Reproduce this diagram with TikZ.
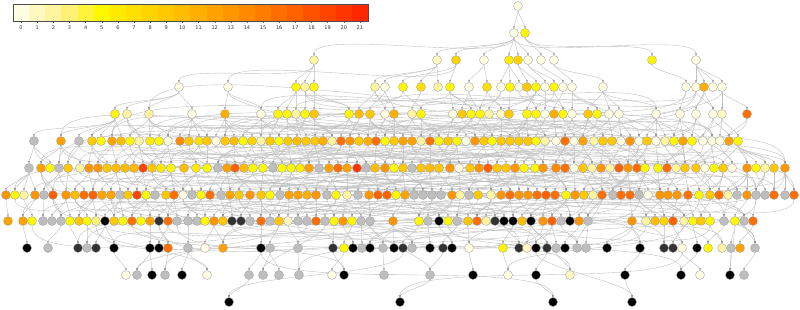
\documentclass[tikz,border=0pt]{standalone}
\usepackage{fontspec}
\setsansfont{DejaVu Sans}
\usepackage{tikz}
\usetikzlibrary{arrows.meta}
\definecolor{heat0}{RGB}{255,253,226}
\definecolor{heat1}{RGB}{255,248,192}
\definecolor{heat2}{RGB}{255,244,160}
\definecolor{heat3}{RGB}{255,240,118}
\definecolor{heat4}{RGB}{255,243,60}
\definecolor{heat5}{RGB}{255,248,0}
\definecolor{heat6}{RGB}{255,235,0}
\definecolor{heat7}{RGB}{255,224,0}
\definecolor{heat8}{RGB}{255,212,0}
\definecolor{heat9}{RGB}{255,200,0}
\definecolor{heat10}{RGB}{255,188,0}
\definecolor{heat11}{RGB}{255,175,0}
\definecolor{heat12}{RGB}{255,162,0}
\definecolor{heat13}{RGB}{255,150,0}
\definecolor{heat14}{RGB}{255,137,0}
\definecolor{heat15}{RGB}{255,124,0}
\definecolor{heat16}{RGB}{255,110,0}
\definecolor{heat17}{RGB}{255,96,0}
\definecolor{heat18}{RGB}{255,82,0}
\definecolor{heat19}{RGB}{255,68,0}
\definecolor{heat20}{RGB}{255,54,0}
\definecolor{heat21}{RGB}{255,38,0}
\definecolor{heatga}{RGB}{190,190,190}
\definecolor{heatdk}{RGB}{50,50,50}
\definecolor{heatbk}{RGB}{0,0,0}
\definecolor{edgegray}{RGB}{192,192,192}
\definecolor{nodeline}{RGB}{160,160,160}
\tikzstyle{vtx} = [circle, minimum size=9pt, inner sep=0pt, draw=nodeline, line width=0.35pt]
\tikzstyle{link} = [draw=edgegray, line width=0.4pt, -{Stealth[length=2.4pt,width=2pt,color=black!45]}, out=-90, in=90, looseness=0.35]
\tikzstyle{ticklabel} = [font=\sffamily\fontsize{5}{6}\selectfont, text=black!80, inner sep=0pt]
\pgfdeclarelayer{edges}
\pgfsetlayers{edges,main}

% x of node #2 in row #1
\newcommand\rowx[2]{\csname rx#1-#2\endcsname}
% one row of nodes: #1 row, #2 y, #3 list x/colour
\newcommand\vrow[3]{%
  \foreach \x/\c [count=\i] in {#3} {%
    \node[vtx, fill=heat\c] (r#1-\i) at (\x,#2) {};
    \expandafter\xdef\csname rx#1-\i\endcsname{\x}%
    \expandafter\xdef\csname rn#1\endcsname{\i}%
  }}
% node of row #1 nearest to x = #2 -> \pidx
\newcommand\findparent[2]{%
  \gdef\pbest{100000}\gdef\pidx{1}%
  \edef\nup{\csname rn#1\endcsname}%
  \foreach \j in {1,...,\nup} {%
    \count255=\numexpr\rowx{#1}{\j}-(#2)\relax
    \ifnum\count255<0 \count255=-\count255 \fi
    \ifnum\count255<\pbest\relax
      \xdef\pbest{\the\count255}\xdef\pidx{\j}%
    \fi
  }}
\newcommand\linkrows[2]{%
  \edef\nlow{\csname rn#2\endcsname}%
  \foreach \i in {1,...,\nlow} {%
    \pgfmathtruncatemacro\shift{12*(mod(\i,3)-1)}%
    \findparent{#1}{\rowx{#2}{\i}+\shift}%
    \draw[link] (r#1-\pidx) to (r#2-\i);
  }}
\newcommand\farlinks[4]{%
  \edef\nlow{\csname rn#2\endcsname}%
  \edef\nupp{\csname rn#1\endcsname}%
  \foreach \i in {1,...,\nlow} {%
    \pgfmathtruncatemacro\rest{mod(\i,#3)}%
    \ifnum\rest=0
      \pgfmathtruncatemacro\far{mod(\i*#4+3,\nupp)+1}%
      \draw[link] (r#1-\far) to (r#2-\i);
    \fi
  }}

\begin{document}
\begin{tikzpicture}[x=1pt, y=-1pt]
    \useasboundingbox (0,0) rectangle (800,309);

    % Colour scale
    \foreach \i in {0,...,21} {
        \fill[heat\i] ({13+16.136*\i},4) rectangle ({13+16.136*(\i+1)},21);
        \draw[black!60, line width=0.4pt] ({13+16.136*(\i+0.5)},21) -- ++(0,2);
        \node[ticklabel] (lab\i) at ({13+16.136*(\i+0.5)},28) {\i};
    }
    \draw[black!70, line width=0.5pt] (13,4) rectangle (368,21);

    % Rows of nodes
    \vrow{0}{6}{518/0}
    \vrow{1}{33}{514/0, 525/5}
    \vrow{2}{60}{314/2, 437/1, 456/8, 484/0, 509/6, 518/8, 528/0, 541/0, 554/0, 652/5, 696/0}
    \vrow{3}{87}{179/0, 228/0, 296/5, 305/2, 314/5, 375/2, 385/0, 403/5, 421/7, 438/2, 450/5, 469/0, 487/7, 501/0, 510/5, 519/0, 527/9, 536/5, 545/0, 554/5, 563/0, 572/0, 603/0, 686/0, 696/0, 704/11, 713/0, 722/0}
    \vrow{4}{114}{115/5, 127/2, 149/2, 192/0, 225/11, 261/0, 278/5, 287/5, 296/2, 305/5, 314/9, 349/5, 359/10, 370/9, 385/0, 394/11, 412/2, 421/5, 453/0, 462/9, 471/5, 480/5, 489/2, 501/1, 509/9, 527/5, 536/5, 545/0, 554/11, 563/5, 572/0, 588/9, 597/5, 609/0, 619/0, 656/0, 680/0, 696/0, 713/0, 722/1, 747/16}
    \vrow{5}{141}{34/ga, 61/12, 79/ga, 92/9, 101/5, 112/12, 121/10, 130/5, 139/2, 150/6, 159/5, 168/0, 180/14, 189/9, 199/7, 207/9, 216/0, 225/9, 234/10, 243/5, 252/8, 261/2, 270/9, 279/5, 288/9, 297/10, 306/9, 315/9, 323/11, 332/2, 341/16, 350/13, 359/9, 368/11, 376/16, 385/5, 394/9, 403/12, 412/12, 421/2, 430/16, 439/5, 448/9, 457/5, 466/0, 475/13, 484/9, 492/5, 501/9, 510/9, 519/9, 528/9, 536/5, 545/2, 556/0, 565/16, 574/0, 583/12, 594/2, 603/9, 612/9, 621/0, 630/13, 639/0, 647/9, 656/0, 665/2, 674/5, 683/12, 692/5, 703/0, 712/0, 720/0, 729/12, 738/5}
    \vrow{6}{168}{29/ga, 41/12, 50/5, 59/ga, 68/9, 80/2, 89/13, 98/13, 107/9, 116/10, 125/10, 134/10, 143/19, 152/9, 161/6, 171/5, 184/10, 196/6, 207/5, 218/ga, 227/12, 235/17, 244/10, 253/5, 263/5, 273/ga, 282/5, 291/5, 300/6, 309/12, 319/ga, 329/12, 338/16, 347/12, 357/20, 366/ga, 375/10, 385/13, 394/5, 403/9, 412/ga, 421/9, 430/10, 439/9, 450/13, 459/0, 470/9, 479/13, 488/17, 497/9, 506/9, 515/13, 524/5, 535/5, 543/13, 556/14, 565/16, 574/0, 583/9, 592/2, 601/13, 610/2, 619/17, 628/13, 637/16, 645/5, 658/5, 667/16, 676/2, 685/9, 696/9, 705/0, 714/5, 723/9, 732/0, 747/13, 756/5, 765/2, 774/9, 785/13}
    \vrow{7}{195}{6/13, 15/5, 24/2, 35/13, 44/ga, 53/17, 66/13, 75/10, 84/16, 93/17, 102/12, 111/12, 120/ga, 128/9, 137/19, 146/5, 155/ga, 166/9, 174/16, 183/0, 192/ga, 201/5, 210/16, 221/ga, 230/12, 239/9, 250/13, 261/9, 270/5, 280/ga, 289/12, 298/12, 307/11, 316/13, 327/ga, 336/5, 347/2, 358/ga, 369/13, 378/17, 387/17, 396/5, 405/12, 414/ga, 423/ga, 432/ga, 441/ga, 452/13, 460/2, 469/ga, 478/9, 491/2, 501/13, 510/16, 519/13, 528/13, 537/16, 546/17, 555/16, 566/5, 575/13, 584/9, 593/2, 602/16, 613/ga, 621/16, 630/16, 639/ga, 648/0, 660/13, 668/13, 677/13, 688/16, 699/5, 710/9, 719/16, 728/2, 737/ga, 747/13, 756/ga, 765/ga, 774/16, 785/ga, 794/16}
    \vrow{8}{221}{8/12, 23/12, 32/5, 43/ga, 52/ga, 61/ga, 70/5, 79/9, 87/5, 96/3, 105/bk, 114/9, 123/5, 132/16, 141/5, 150/12, 159/dk, 168/16, 177/ga, 188/ga, 197/ga, 205/5, 214/13, 223/9, 232/dk, 241/dk, 250/ga, 261/16, 270/ga, 279/9, 288/1, 298/ga, 307/ga, 316/16, 325/ga, 334/5, 343/13, 352/5, 361/ga, 370/ga, 393/13, 419/5, 428/ga, 439/bk, 448/5, 457/ga, 468/9, 477/16, 486/2, 495/dk, 504/bk, 513/bk, 522/10, 531/bk, 543/13, 552/17, 561/ga, 570/bk, 579/13, 588/ga, 632/13, 646/2, 655/10, 664/8, 673/17, 684/2, 693/5, 701/9, 710/5, 724/ga, 735/5, 744/ga, 753/16}
    \vrow{9}{248}{27/bk, 48/ga, 78/dk, 87/ga, 96/dk, 114/bk, 150/bk, 159/bk, 168/16, 188/ga, 205/0, 223/12, 261/bk, 270/ga, 298/ga, 333/dk, 344/5, 353/bk, 362/ga, 370/bk, 383/ga, 394/bk, 403/dk, 412/ga, 430/bk, 443/dk, 452/bk, 469/0, 503/5, 519/dk, 527/1, 536/bk, 547/dk, 556/ga, 565/bk, 577/ga, 586/ga, 607/bk, 640/bk, 664/dk, 673/dk, 682/0, 697/bk, 708/5, 722/2, 731/ga, 740/12, 755/ga}
    \vrow{10}{275}{126/0, 137/ga, 152/bk, 165/ga, 182/bk, 207/0, 249/ga, 263/ga, 279/ga, 299/ga, 332/0, 344/bk, 384/ga, 430/ga, 473/bk, 508/0, 536/bk, 570/1, 625/bk, 681/bk, 700/0, 730/bk, 744/ga}
    \vrow{11}{302}{229/bk, 400/bk, 553/bk, 632/bk}

    % Edges, under the nodes
    \begin{pgfonlayer}{edges}
        \foreach \a/\b in {1/1, 1/2}
            \draw[link] (r0-\a) to (r1-\b);
        \foreach \a/\b in {1/1, 1/2, 1/3, 1/4, 1/5, 1/6, 1/7, 2/8, 2/9, 2/10, 1/11}
            \draw[link] (r1-\a) to (r2-\b);
        \foreach \a/\b in {1/1, 1/3, 1/4, 1/5, 3/2, 3/11, 2/6, 2/7, 2/9, 2/10, 3/8, 4/12, 4/13, 5/14, 5/15, 5/16, 6/17, 6/18, 7/19, 7/20, 8/21, 9/22, 9/23, 10/24, 11/25, 11/26, 11/27, 11/28}
            \draw[link] (r2-\a) to (r3-\b);
        \linkrows{3}{4}   \farlinks{3}{4}{3}{7}
        \linkrows{4}{5}   \farlinks{4}{5}{2}{11}  \farlinks{3}{5}{6}{13}
        \linkrows{5}{6}   \farlinks{5}{6}{2}{17}  \farlinks{4}{6}{5}{7}
        \linkrows{6}{7}   \farlinks{6}{7}{2}{23}  \farlinks{5}{7}{5}{19}
        \linkrows{7}{8}   \farlinks{7}{8}{2}{29}  \farlinks{6}{8}{6}{13}
        \linkrows{8}{9}   \farlinks{8}{9}{3}{17}  \farlinks{7}{9}{4}{11}
        \linkrows{9}{10}  \farlinks{8}{10}{2}{13}
        \linkrows{10}{11} \farlinks{9}{11}{1}{19}
    \end{pgfonlayer}
\end{tikzpicture}
\end{document}
